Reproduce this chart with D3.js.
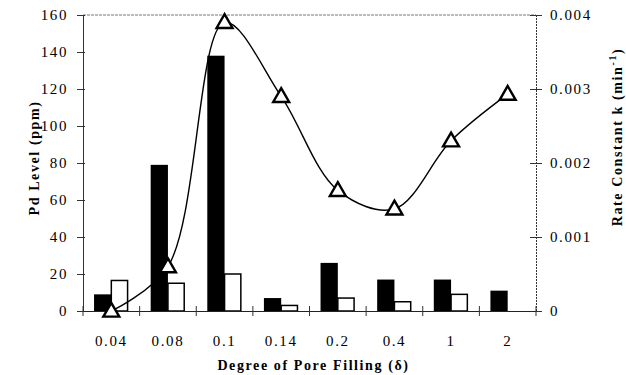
<!DOCTYPE html>
<html>
<head>
<meta charset="utf-8">
<script src="https://cdn.jsdelivr.net/npm/d3@7"></script>
<style>
  body { margin: 0; background: #fff; }
  svg text { font-family: "Liberation Serif", "DejaVu Serif", serif; fill: #000; }
  svg text.tick-label { font-size: 15px; letter-spacing: 1.6px; }
  svg text.axis-title { font-size: 14px; font-weight: bold; letter-spacing: 1.6px; }
</style>
</head>
<body>
<svg class="chart" width="626" height="375"></svg>
<script>
// data
var categories = ["0.04", "0.08", "0.1", "0.14", "0.2", "0.4", "1", "2"];
var pdBlack = [9, 79, 138, 7, 26, 17, 17, 11];
var pdWhite = [16.5, 15, 20, 3, 7, 5, 9, 0];
var rateK = [0, 0.0006, 0.0039, 0.0029, 0.00163, 0.00138, 0.0023, 0.00293];
var leftTicks = [0, 20, 40, 60, 80, 100, 120, 140, 160];
var rightTicks = [0, 0.001, 0.002, 0.003, 0.004];

var margin = { left: 83, right: 536, top: 15, bottom: 311 };
var serif = "'Liberation Serif', 'DejaVu Serif', serif";

var svg = d3.select(".chart");

var x = d3.scaleBand().domain(categories).range([margin.left, margin.right])
  .paddingInner(0.39).paddingOuter(0.195);
var x1 = d3.scaleBand().domain(["b", "w"]).range([0, x.bandwidth()]);
var yL = d3.scaleLinear().domain([0, 160]).range([margin.bottom, margin.top]);
var yR = d3.scaleLinear().domain([0, 0.004]).range([margin.bottom, margin.top]);

// top frame line (dotted grey)
svg.append("line")
  .attr("x1", margin.left).attr("x2", margin.right)
  .attr("y1", margin.top).attr("y2", margin.top)
  .attr("stroke", "#777").attr("stroke-width", 1).attr("stroke-dasharray", "3,1");

// bars
var rows = categories.map((c, i) => ({ c: c, b: pdBlack[i], w: pdWhite[i] }));
svg.selectAll(".barb").data(rows).enter().append("rect")
  .attr("class", "barb")
  .attr("x", d => x(d.c) + x1("b"))
  .attr("y", d => yL(d.b))
  .attr("width", x1.bandwidth())
  .attr("height", d => yL(0) - yL(d.b))
  .attr("fill", "#000");
svg.selectAll(".barw").data(rows.filter(d => d.w > 0)).enter().append("rect")
  .attr("class", "barw")
  .attr("x", d => x(d.c) + x1("w"))
  .attr("y", d => yL(d.w))
  .attr("width", x1.bandwidth() - 1)
  .attr("height", d => yL(0) - yL(d.w))
  .attr("fill", "#fff").attr("stroke", "#000").attr("stroke-width", 1.5);

function styleTicks(g) {
  g.attr("font-family", serif).attr("font-size", 15);
  g.selectAll(".tick text").attr("class", "tick-label").style("font-family", serif);
}

// left axis
var axL = svg.append("g").attr("transform", "translate(" + margin.left + ",0)")
  .call(d3.axisLeft(yL).tickValues(leftTicks).tickSize(6).tickPadding(9));
axL.select(".domain").attr("stroke", "#333");
axL.selectAll(".tick line").attr("x2", 2).attr("x1", -6).attr("stroke", "#333");
styleTicks(axL);

// right axis
var axR = svg.append("g").attr("transform", "translate(" + margin.right + ",0)")
  .call(d3.axisRight(yR).tickValues(rightTicks).tickFormat(d => d === 0 ? "0" : d3.format(".3f")(d)).tickSize(6).tickPadding(8));
axR.select(".domain").attr("stroke", "#333").attr("stroke-dasharray", "2,1");
axR.selectAll(".tick line").attr("x1", -6).attr("x2", 6).attr("stroke", "#333");
styleTicks(axR);

// bottom axis: labels at band centres, ticks at band edges
var axB = svg.append("g").attr("transform", "translate(0," + margin.bottom + ")")
  .call(d3.axisBottom(x).tickSize(0).tickPadding(24));
axB.select(".domain").attr("stroke", "#222").attr("stroke-width", 1.2);
styleTicks(axB);
var edges = categories.map(c => x(c) - (x.step() - x.bandwidth()) / 2).concat([margin.right]);
axB.selectAll(".edge").data(edges).enter().append("line")
  .attr("class", "edge")
  .attr("x1", d => d).attr("x2", d => d)
  .attr("y1", -5).attr("y2", 5)
  .attr("stroke", "#333");

// rate constant curve
var pts = categories.map((c, i) => [x(c) + x.bandwidth() / 2, yR(rateK[i])]);
svg.append("path")
  .datum(pts)
  .attr("d", d3.line().curve(d3.curveCatmullRom.alpha(0.5)))
  .attr("fill", "none").attr("stroke", "#000").attr("stroke-width", 1.4);

svg.selectAll(".tri").data(pts).enter().append("path")
  .attr("class", "tri")
  .attr("transform", d => "translate(" + d[0] + "," + (d[1] + 1) + ")")
  .attr("d", d3.symbol().type(d3.symbolTriangle).size(110))
  .attr("fill", "#fff").attr("stroke", "#000").attr("stroke-width", 2.4);

// axis titles
svg.append("text").attr("class", "axis-title")
  .style("font-family", serif)
  .attr("text-anchor", "middle")
  .attr("x", (margin.left + margin.right) / 2 + 4).attr("y", 370)
  .text("Degree of Pore Filling (δ)");
svg.append("text").attr("class", "axis-title")
  .style("font-family", serif)
  .attr("text-anchor", "middle")
  .attr("transform", "translate(39," + 158 + ") rotate(-90)")
  .text("Pd Level (ppm)");
var rt = svg.append("text").attr("class", "axis-title")
  .style("font-family", serif)
  .attr("text-anchor", "middle")
  .attr("transform", "translate(622," + 137 + ") rotate(-90)");
rt.append("tspan").text("Rate Constant k (min");
rt.append("tspan").attr("dy", -6).attr("font-size", "10px").text("-1");
rt.append("tspan").attr("dy", 6).text(")");
</script>
</body>
</html>
